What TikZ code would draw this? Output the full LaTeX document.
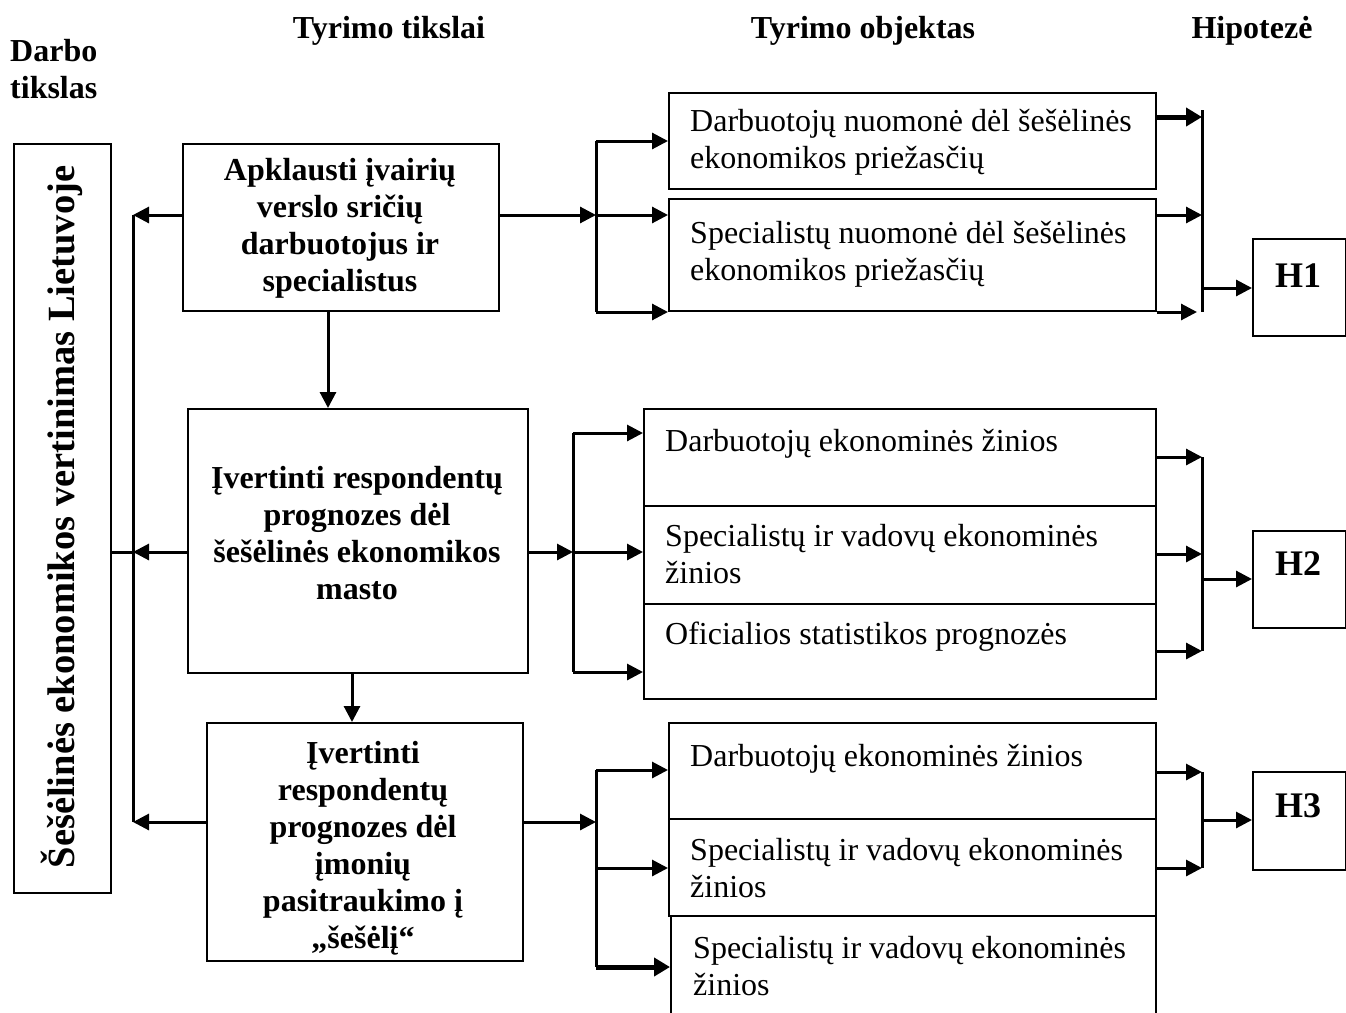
\documentclass[tikz,border=0pt]{standalone}
\usepackage{fontspec}
\setmainfont{Liberation Serif}
\usetikzlibrary{arrows.meta}
\begin{document}
\begin{tikzpicture}[x=1pt,y=-1pt,
  box/.style={draw, line width=2pt, inner sep=0pt, anchor=north west},
  conn/.style={line width=3pt},
  arr/.style={conn, -{Triangle[length=16pt,width=16pt]}},
  thickarr/.style={line width=5pt, -{Triangle[length=16pt,width=18pt]}},
  bold/.style={font=\bfseries\fontsize{32}{37}\selectfont, align=center, inner sep=0pt},
  plain/.style={font=\fontsize{32}{37}\selectfont, align=left, inner sep=0pt, anchor=base west},
  hyp/.style={font=\bfseries\fontsize{36}{40}\selectfont, inner sep=0pt, anchor=base},
  head/.style={font=\bfseries\fontsize{32}{37}\selectfont, inner sep=0pt, anchor=base}
]
\useasboundingbox[fill=white] (0,0) rectangle (1346,1012);

% headers
\node[head, anchor=base west, align=left] (hd0) at (10,98) {Darbo\\tikslas};
\node[head] (hd1) at (389,38) {Tyrimo tikslai};
\node[head] (hd2) at (863,38) {Tyrimo objektas};
\node[head] (hd3) at (1252,38) {Hipotezė};

% left goal box
\node[box, minimum width=97pt, minimum height=749pt] (lb) at (13,143) {};
\node[font=\bfseries\fontsize{38.5}{40}\selectfont, rotate=90, inner sep=0pt] (lbt) at (62,517) {Šešėlinės ekonomikos vertinimas Lietuvoje};

% research aims
\node[box, minimum width=316pt, minimum height=167pt] (t1) at (182,143) {};
\node[bold] (t1t) at (340,228) {Apklausti įvairių\\verslo sričių\\darbuotojus ir\\specialistus};
\node[box, minimum width=340pt, minimum height=264pt] (t2) at (187,408) {};
\node[bold] (t2t) at (357,533) {Įvertinti respondentų\\prognozes dėl\\šešėlinės ekonomikos\\masto};
\node[box, minimum width=316pt, minimum height=238pt] (t3) at (206,722) {};
\node[bold] (t3t) at (363,848) {Įvertinti\\respondentų\\prognozes dėl\\įmonių\\pasitraukimo į\\„šešėlį“};

% object boxes row 1
\node[box, minimum width=487pt, minimum height=96pt] (o11) at (668,92) {};
\node[plain] (o11t) at ([shift={(22,76)}]o11.north west) {Darbuotojų nuomonė dėl šešėlinės\\ekonomikos priežasčių};
\node[box, minimum width=487pt, minimum height=112pt] (o12) at (668,198) {};
\node[plain] (o12t) at ([shift={(22,82)}]o12.north west) {Specialistų nuomonė dėl šešėlinės\\ekonomikos priežasčių};

% object boxes row 2
\node[box, minimum width=512pt, minimum height=97pt] (o21) at (643,408) {};
\node[plain] (o21t) at ([shift={(22,43)}]o21.north west) {Darbuotojų ekonominės žinios};
\node[box, minimum width=512pt, minimum height=98pt] (o22) at (643,505) {};
\node[plain] (o22t) at ([shift={(22,78)}]o22.north west) {Specialistų ir vadovų ekonominės\\žinios};
\node[box, minimum width=512pt, minimum height=95pt] (o23) at (643,603) {};
\node[plain] (o23t) at ([shift={(22,41)}]o23.north west) {Oficialios statistikos prognozės};

% object boxes row 3
\node[box, minimum width=487pt, minimum height=96pt] (o31) at (668,722) {};
\node[plain] (o31t) at ([shift={(22,44)}]o31.north west) {Darbuotojų ekonominės žinios};
\node[box, minimum width=487pt, minimum height=97pt] (o32) at (668,818) {};
\node[plain] (o32t) at ([shift={(22,79)}]o32.north west) {Specialistų ir vadovų ekonominės\\žinios};
\node[box, minimum width=485pt, minimum height=120pt] (o33) at (670,915) {};
\node[plain] (o33t) at ([shift={(23,80)}]o33.north west) {Specialistų ir vadovų ekonominės\\žinios};

% hypotheses
\node[box, minimum width=93pt, minimum height=97pt] (h1) at (1252,238) {};
\node[hyp] (h1t) at (1298,287) {H1};
\node[box, minimum width=93pt, minimum height=97pt] (h2) at (1252,530) {};
\node[hyp] (h2t) at (1298,575) {H2};
\node[box, minimum width=93pt, minimum height=98pt] (h3) at (1252,771) {};
\node[hyp] (h3t) at (1298,817) {H3};

% left bus
\coordinate (lbT) at (133,215);
\coordinate (lbM) at (133,552);
\coordinate (lbB) at (133,822);
\draw[conn] (lbT) -- (lbB);
\draw[conn] (lb.east |- lbM) -- (lbM);
\draw[arr] (t1.west |- lbT) -- (lbT);
\draw[arr] (t2.west |- lbM) -- (lbM);
\draw[arr] (t3.west |- lbB) -- (lbB);

% vertical flow
\coordinate (v1) at (328,0);
\coordinate (v2) at (352,0);
\draw[arr] (t1.south -| v1) -- (t2.north -| v1);
\draw[arr] (t2.south -| v2) -- (t3.north -| v2);

% row 1 fan-out
\coordinate (r1a) at (596,141);
\coordinate (r1b) at (596,215);
\coordinate (r1c) at (596,312);
\draw[arr] (t1.east |- r1b) -- (r1b);
\draw[conn] (r1a) -- (r1c);
\draw[arr] (r1a) -- (o11.west |- r1a);
\draw[arr] (r1b) -- (o12.west |- r1b);
\draw[arr] (r1c) -- (o12.west |- r1c);

% row 1 fan-in
\coordinate (s1top) at (1202,110);
\coordinate (s1a) at (1202,117);
\coordinate (s1b) at (1202,215);
\coordinate (s1c) at (1202,312);
\coordinate (s1h) at (1202,288);
\draw[conn] (s1top) -- (s1c);
\draw[thickarr] (o11.east |- s1a) -- (s1a);
\draw[arr] (o12.east |- s1b) -- (s1b);
\draw[arr] (o12.east |- s1c) -- ([xshift=-5pt]s1c);
\draw[arr] (s1h) -- (h1.west |- s1h);

% row 2 fan-out
\coordinate (r2a) at (573,433);
\coordinate (r2b) at (573,552);
\coordinate (r2c) at (573,672);
\draw[arr] (t2.east |- r2b) -- (r2b);
\draw[conn] (r2a) -- (r2c);
\draw[arr] (r2a) -- (o21.west |- r2a);
\draw[arr] (r2b) -- (o22.west |- r2b);
\draw[arr] (r2c) -- (o23.west |- r2c);

% row 2 fan-in
\coordinate (s2a) at (1202,457);
\coordinate (s2b) at (1202,554);
\coordinate (s2c) at (1202,651);
\coordinate (s2h) at (1202,579);
\draw[conn] (s2a) -- (s2c);
\draw[arr] (o21.east |- s2a) -- (s2a);
\draw[arr] (o22.east |- s2b) -- (s2b);
\draw[arr] (o23.east |- s2c) -- (s2c);
\draw[arr] (s2h) -- (h2.west |- s2h);

% row 3 fan-out
\coordinate (r3a) at (596,770);
\coordinate (r3b) at (596,868);
\coordinate (r3c) at (596,967);
\draw[arr] (t3.east |- lbB) -- (lbB -| r3a);
\draw[conn] (r3a) -- (r3c);
\draw[arr] (r3a) -- (o31.west |- r3a);
\draw[arr] (r3b) -- (o32.west |- r3b);
\draw[thickarr] (r3c) -- (o33.west |- r3c);

% row 3 fan-in
\coordinate (s3a) at (1202,772);
\coordinate (s3b) at (1202,868);
\coordinate (s3h) at (1202,820);
\draw[conn] (s3a) -- (s3b);
\draw[arr] (o31.east |- s3a) -- (s3a);
\draw[arr] (o32.east |- s3b) -- (s3b);
\draw[arr] (s3h) -- (h3.west |- s3h);
\end{tikzpicture}
\end{document}
